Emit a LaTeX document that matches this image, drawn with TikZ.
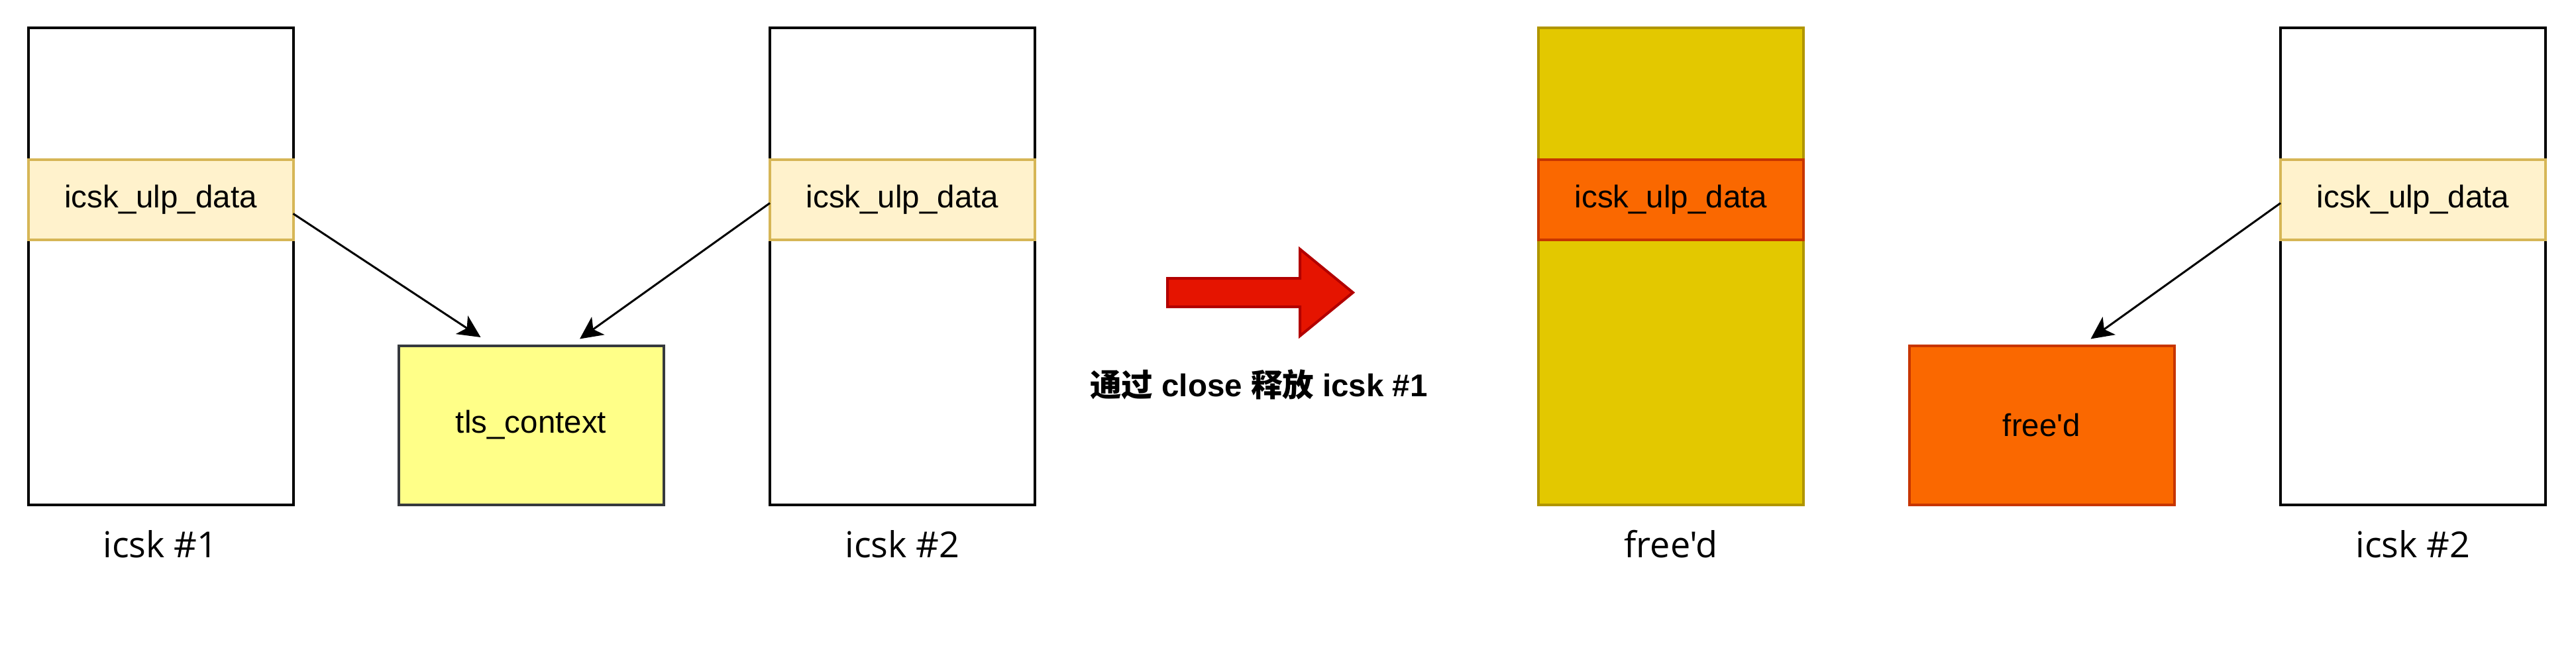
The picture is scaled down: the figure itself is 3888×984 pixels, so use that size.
\documentclass[tikz,border=0pt]{standalone}
\usepackage{fontspec}
\setmainfont{Liberation Sans}[Ligatures=TeXOff]
\newfontfamily\cjk{Noto Sans CJK SC}
\newfontfamily\hand{Open Sans}[Ligatures=TeXOff]
\usetikzlibrary{arrows.meta}
\definecolor{ulpfill}{HTML}{FFF2CC}
\definecolor{ulpline}{HTML}{D6B656}
\definecolor{tlsfill}{HTML}{FFFF88}
\definecolor{tlsline}{HTML}{36393D}
\definecolor{goldfill}{HTML}{E3C800}
\definecolor{goldline}{HTML}{B09500}
\definecolor{orfill}{HTML}{FA6800}
\definecolor{orline}{HTML}{C73500}
\definecolor{redfill}{HTML}{E51400}
\definecolor{redline}{HTML}{B20000}
\begin{document}
\begin{tikzpicture}[x=0.5pt,y=-0.5pt,
  base/.style={rectangle,inner sep=0pt,outer sep=0pt,line width=2pt,
    font=\fontsize{23.75pt}{28pt}\selectfont},
  sockbox/.style={base,draw=black,fill=white,minimum width=200pt,minimum height=360pt},
  ulpbox/.style={base,draw=ulpline,fill=ulpfill,minimum width=200pt,minimum height=60pt},
  ulpdead/.style={base,draw=orline,fill=orfill,minimum width=200pt,minimum height=60pt},
  deadbox/.style={base,draw=goldline,fill=goldfill,minimum width=200pt,minimum height=360pt},
  tlsbox/.style={base,draw=tlsline,fill=tlsfill,minimum width=200pt,minimum height=120pt},
  freedbox/.style={base,draw=orline,fill=orfill,minimum width=200pt,minimum height=120pt},
  caption/.style={inner sep=0pt,font=\hand\fontsize{27pt}{32pt}\selectfont},
  ptr/.style={line width=1.5pt,-{Stealth[length=17pt,width=16.5pt,inset=4.5pt]}}
]
\useasboundingbox (0,0) rectangle (3888,984);

% left state
\node[sockbox] (box1) at (242.5,402) {};
\node[ulpbox] (ulp1) at (242.5,301.5) {icsk\_ulp\_data};
\node[tlsbox] (tls) at (801.5,641.5) {tls\_context};
\node[sockbox] (box2) at (1362,402) {};
\node[ulpbox] (ulp2) at (1362,301.5) {icsk\_ulp\_data};
\node[caption] (cap1) at (242,821) {icsk \#1};
\node[caption] (cap2) at (1362,821) {icsk \#2};

\coordinate (tip1) at (725.5,509);
\coordinate (tip2) at (875,511.5);
\draw[ptr] ([yshift=-10.5pt]ulp1.east) -- (tip1);
\draw[ptr] ([yshift=-2.5pt]ulp2.west) -- (tip2);

% big red arrow
\draw[fill=redfill,draw=redline,line width=2pt,line join=miter]
  (1762,420) -- (1962,420) -- (1962,376) -- (2042,441.5) -- (1962,507)
  -- (1962,463) -- (1762,463) -- cycle;
\node[inner sep=0pt,font=\fontsize{23.75pt}{28pt}\selectfont\bfseries] (msg) at (1900,580)
  {{\cjk\bfseries 通过} close {\cjk\bfseries 释放} icsk \#1};

% right state
\node[deadbox] (box3) at (2522,402) {};
\node[ulpdead] (ulp3) at (2522,301.5) {icsk\_ulp\_data};
\node[freedbox] (freed) at (3081.5,641.5) {free'd};
\node[sockbox] (box4) at (3642,402) {};
\node[ulpbox] (ulp4) at (3642,301.5) {icsk\_ulp\_data};
\node[caption] (cap3) at (2522,821) {free'd};
\node[caption] (cap4) at (3642,821) {icsk \#2};

\coordinate (tip3) at (3155.5,511.5);
\draw[ptr] ([yshift=-2.5pt]ulp4.west) -- (tip3);
\end{tikzpicture}
\end{document}
